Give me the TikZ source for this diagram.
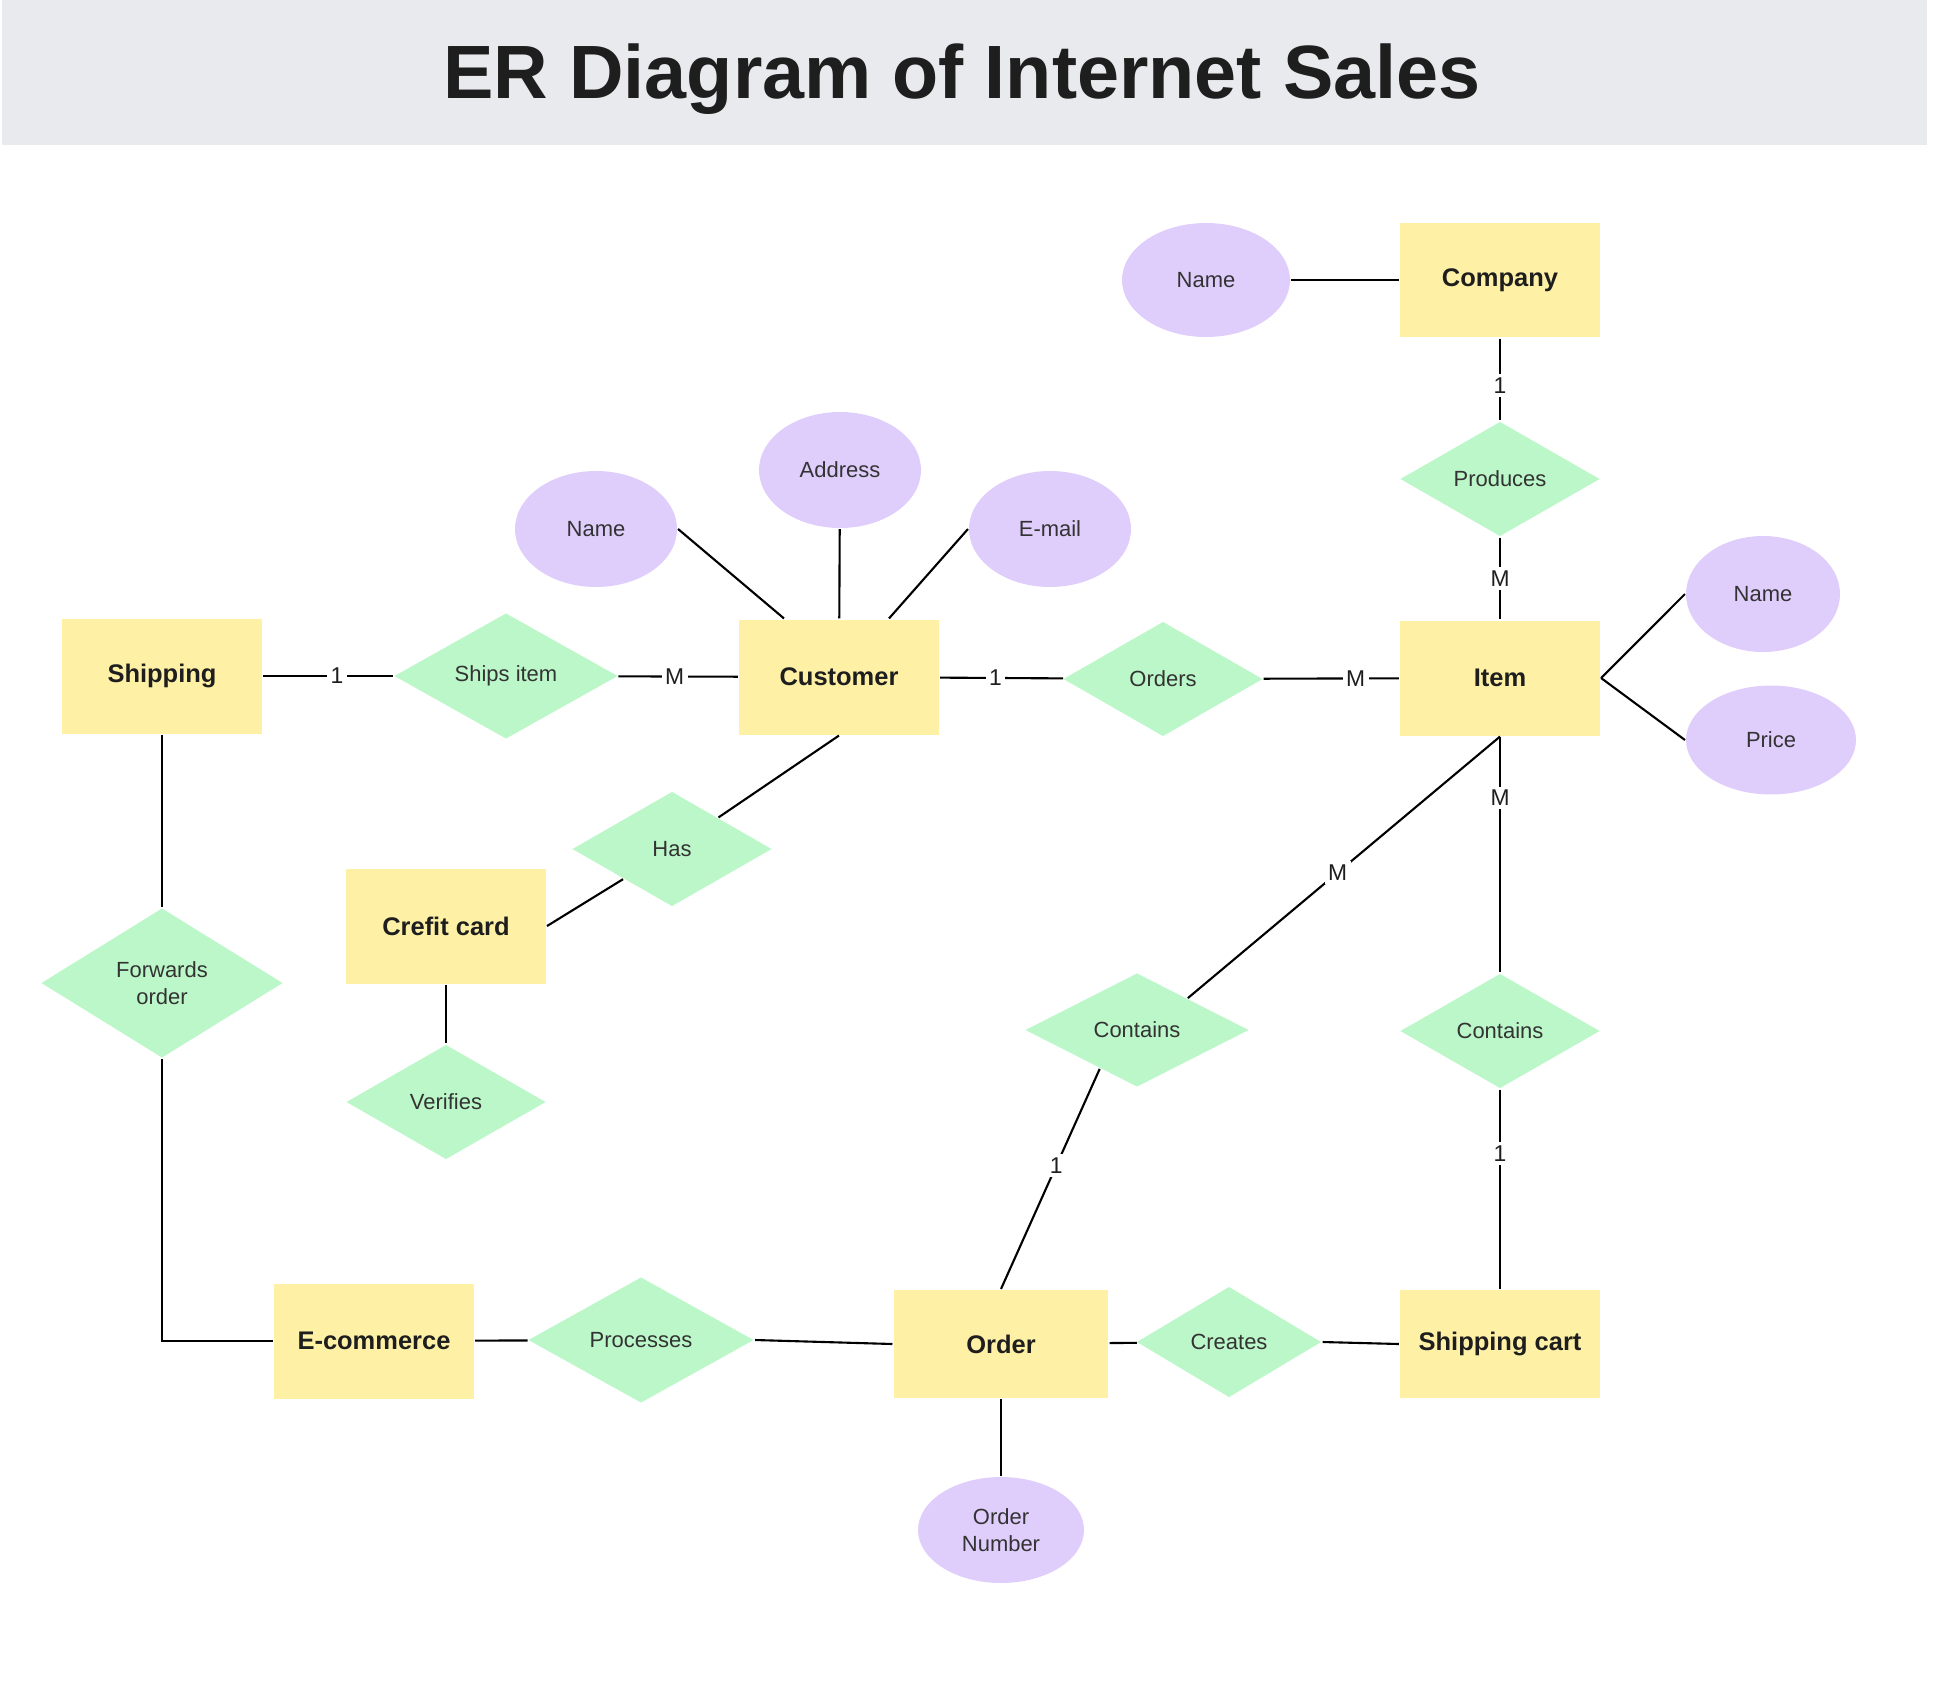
\documentclass[tikz,border=0pt]{standalone}
\usepackage{fontspec}
\setmainfont{Liberation Sans}
\usetikzlibrary{shapes.geometric,calc}

\definecolor{entyellow}{HTML}{FEF1A6}
\definecolor{relgreen}{HTML}{BBF7C8}
\definecolor{attrpurple}{HTML}{DFCDFB}
\definecolor{titlegray}{HTML}{E9EAEE}
\definecolor{inkdark}{HTML}{1E1E1E}
\definecolor{inkgray}{HTML}{333333}

\begin{document}
\begin{tikzpicture}[x=0.02cm, y=-0.02cm, line width=1.2pt,
    every node/.style={align=center},
    entity/.style={fill=entyellow, minimum width=4cm, minimum height=2.3cm, inner sep=0pt,
      font=\fontsize{14.5}{17}\selectfont\bfseries, text=inkdark},
    attr/.style={ellipse, fill=attrpurple, minimum width=3.24cm, minimum height=2.32cm, inner sep=0pt,
      font=\fontsize{12.5}{15}\selectfont, text=inkgray},
    rel/.style={diamond, fill=relgreen, minimum width=4cm, minimum height=2.3cm, inner sep=0pt,
      font=\fontsize{12.5}{15}\selectfont, text=inkgray},
    mult/.style={fill=white, inner sep=2pt, font=\fontsize{13}{15}\selectfont, text=inkdark}]
    \useasboundingbox (0,0) rectangle (1960,1687);
    \fill[titlegray] (2,0) rectangle (1927,145);
    \node[font=\fontsize{43}{50}\selectfont\bfseries, text=inkdark] (title) at (962,79) {ER Diagram of Internet Sales};

    \node[entity] (company) at (1500,280) {Company};
    \node[entity] (cust) at (839,677) {Customer};
    \node[entity] (item) at (1500,678) {Item};
    \node[entity] (ship) at (162,676) {Shipping};
    \node[entity] (ccard) at (446,926) {Crefit card};
    \node[entity] (ecom) at (374,1341) {E-commerce};
    \node[entity, minimum width=4.3cm, minimum height=2.16cm] (order) at (1001,1344) {Order};
    \node[entity, minimum height=2.16cm] (cart) at (1500,1344) {Shipping cart};

    \node[attr, minimum width=3.36cm, minimum height=2.28cm] (cname) at (1206,280) {Name};
    \node[attr] (uname) at (596,529) {Name};
    \node[attr] (addr) at (840,470) {Address};
    \node[attr] (email) at (1050,529) {E-mail};
    \node[attr, minimum width=3.08cm] (iname) at (1763,594) {Name};
    \node[attr, minimum width=3.4cm, minimum height=2.18cm] (price) at (1771,740) {Price};
    \node[attr, minimum width=3.32cm, minimum height=2.12cm] (onum) at (1001,1530) {Order\\Number};

    \node[rel] (prod) at (1500,479) {Produces};
    \node[rel, minimum width=4.48cm, minimum height=2.52cm] (shipsitem) at (506,676) {Ships item};
    \node[rel] (orders) at (1163,679) {Orders};
    \node[rel] (has) at (672,849) {Has};
    \node[rel, minimum width=4.84cm, minimum height=3cm] (fwd) at (162,983) {Forwards\\order};
    \node[rel] (verif) at (446,1102) {Verifies};
    \node[rel, minimum width=4.48cm, minimum height=2.28cm] (contl) at (1137,1030) {Contains};
    \node[rel] (contr) at (1500,1031) {Contains};
    \node[rel, minimum width=4.52cm, minimum height=2.52cm] (proc) at (641,1340) {Processes};
    \node[rel, minimum width=3.7cm, minimum height=2.22cm] (creates) at (1229,1342) {Creates};

    \draw (cname) -- (company);
    \draw (company) -- node[mult, pos=0.57]{1} (prod);
    \draw (prod) -- node[mult]{M} (item);
    \draw (ship) -- node[mult, pos=0.57]{1} (shipsitem);
    \draw (shipsitem) -- node[mult, pos=0.47]{M} (cust);
    \draw (cust) -- node[mult, pos=0.45]{1} (orders);
    \draw (orders) -- node[mult, pos=0.68]{M} (item);
    \draw (uname.east) -- ($(cust.north)+(-55,0)$);
    \draw (addr) -- (cust);
    \draw (email.west) -- ($(cust.north)+(50,0)$);
    \draw (item.east) -- (iname.west);
    \draw (item.east) -- (price.west);
    \draw (cust.south) -- (has);
    \draw (ccard.east) -- (has);
    \draw (ccard) -- (verif);
    \draw (ship) -- (fwd);
    \draw (fwd.south) |- (ecom.west);
    \draw (ecom) -- (proc);
    \draw (proc.east) -- (order.west);
    \draw (order) -- (creates);
    \draw (creates.east) -- (cart.west);
    \draw (order) -- (onum);
    \draw (item.south) -- node[mult, pos=0.52]{M} ($(contl.north)!0.45!(contl.east)$);
    \draw (item) -- node[mult, pos=0.26]{M} (contr);
    \draw ($(contl.west)!0.67!(contl.south)$) -- node[mult, pos=0.44]{1} (order.north);
    \draw (contr) -- node[mult, pos=0.32]{1} (cart);
\end{tikzpicture}
\end{document}
